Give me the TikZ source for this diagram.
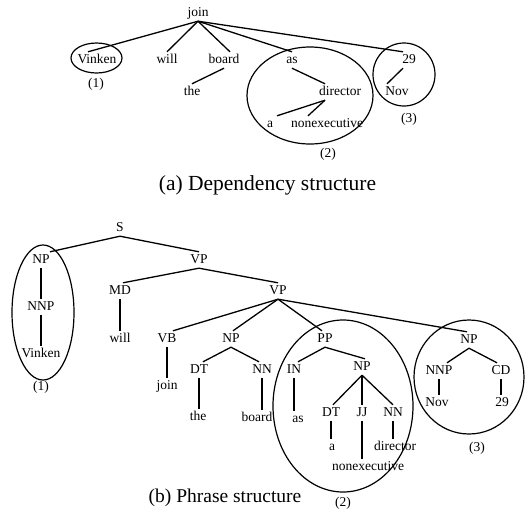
\documentclass[tikz,border=0pt]{standalone}
\usepackage{fontspec}
\setmainfont{Liberation Serif}
\usetikzlibrary{calc}
\begin{document}
\begin{tikzpicture}[x=1pt,y=-1pt,
  lbl/.style={font=\fontsize{13.5}{16}\selectfont, inner sep=2pt, text height=9pt, text depth=3pt},
  captext/.style={inner sep=0pt},
  edge/.style={line width=1.3pt},
  ring/.style={line width=1.2pt}]
\useasboundingbox (0,0) rectangle (525,512);
% ---------------- (a) dependency structure ----------------
\node[lbl] (djoin) at (198,13) {join};
\node[lbl] (dvinken) at (97,60) {Vinken};
\node[lbl] (dwill) at (167,60) {will};
\node[lbl] (dboard) at (224,60) {board};
\node[lbl] (dthe) at (192,92) {the};
\node[lbl] (das) at (292,60) {as};
\node[lbl] (ddirector) at (340,92) {director};
\node[lbl] (da) at (270,124) {a};
\node[lbl] (dnonexec) at (327,124) {nonexecutive};
\node[lbl] (d29) at (409,60) {29};
\node[lbl] (dnov) at (397,92) {Nov};
\node[lbl] (dl1) at (96,84) {(1)};
\node[lbl] (dl2) at (328,154) {(2)};
\node[lbl] (dl3) at (409,119) {(3)};
\draw[edge] (djoin.south) -- ($(dvinken.north)+(-9,0)$);
\draw[edge] (djoin.south) -- (dwill.north);
\draw[edge] (djoin.south) -- ($(dboard.north)+(6,0)$);
\draw[edge] (djoin.south) -- (das.north);
\draw[edge] (djoin.south) -- ($(d29.north)+(-6,0)$);
\draw[edge] (dboard.south) -- (dthe.north);
\draw[edge] (das.south) -- ($(ddirector.north)+(-15,0)$);
\draw[edge] ($(da.north)+(7,0)$) -- ($(ddirector.south)+(-15,0)$);
\draw[edge] ($(dnonexec.north)+(-19,0)$) -- ($(ddirector.south)+(-15,0)$);
\draw[edge] ($(d29.south)+(-6,0)$) -- ($(dnov.north)+(-10,0)$);
\draw[ring] (96.5,58) ellipse [x radius=25.5, y radius=15];
\draw[ring] (310,95.5) ellipse [x radius=63, y radius=48.5];
\draw[ring] (404,74.5) ellipse [x radius=31, y radius=31.5];
\node[captext, font=\fontsize{21.5}{25}\selectfont] (capa) at (267.5,185) {(a) Dependency structure};
% ---------------- (b) phrase structure ----------------
\node[lbl] (S) at (120,228) {S};
\node[lbl] (np1) at (41,260) {NP};
\node[lbl] (nnp1) at (41,307) {NNP};
\node[lbl] (vinken) at (41,354) {Vinken};
\node[lbl] (vp1) at (199,260) {VP};
\node[lbl] (md) at (120,291) {MD};
\node[lbl] (will) at (120,339) {will};
\node[lbl] (vp2) at (278,291) {VP};
\node[lbl] (vb) at (167,339) {VB};
\node[lbl] (join) at (167,386) {join};
\node[lbl] (np2) at (231,339) {NP};
\node[lbl] (dt1) at (199,370) {DT};
\node[lbl] (the) at (198,417) {the};
\node[lbl] (nn1) at (262,370) {NN};
\node[lbl] (board) at (257,418) {board};
\node[lbl] (pp) at (325,339) {PP};
\node[lbl] (in) at (294,370) {IN};
\node[lbl] (as) at (298,419) {as};
\node[lbl] (np3) at (362,367) {NP};
\node[lbl] (dt2) at (331,413) {DT};
\node[lbl] (a) at (332,447) {a};
\node[lbl] (jj) at (362,413) {JJ};
\node[lbl] (nonexec) at (368,467) {nonexecutive};
\node[lbl] (nn2) at (393,413) {NN};
\node[lbl] (director) at (395,447) {director};
\node[lbl] (np4) at (469,340) {NP};
\node[lbl] (nnp2) at (439,371) {NNP};
\node[lbl] (nov) at (437,403) {Nov};
\node[lbl] (cd) at (501,371) {CD};
\node[lbl] (n29) at (502,403) {29};
\node[lbl] (pl1) at (41,387) {(1)};
\node[lbl] (pl2) at (343,503) {(2)};
\node[lbl] (pl3) at (477,448) {(3)};
\draw[edge] (S.south) -- ($(np1.north)+(9,0)$);
\draw[edge] (S.south) -- (vp1.north);
\draw[edge] (np1.south) -- (nnp1.north);
\draw[edge] (nnp1.south) -- (vinken.north);
\draw[edge] (vp1.south) -- ($(md.north)+(3,0)$);
\draw[edge] (vp1.south) -- (vp2.north);
\draw[edge] (md.south) -- (will.north);
\draw[edge] (vp2.south) -- ($(vb.north)+(6,0)$);
\draw[edge] (vp2.south) -- ($(np2.north)+(2,0)$);
\draw[edge] (vp2.south) -- ($(pp.north)+(-3,0)$);
\draw[edge] (vp2.south) -- ($(np4.north)+(-2,0)$);
\draw[edge] (vb.south) -- (vb.south |- join.north);
\draw[edge] (np2.south) -- ($(dt1.north)+(4,0)$);
\draw[edge] (np2.south) -- ($(nn1.north)+(-3,0)$);
\draw[edge] (dt1.south) -- (dt1.south |- the.north);
\draw[edge] (nn1.south) -- (nn1.south |- board.north);
\draw[edge] (pp.south) -- ($(in.north)+(4,0)$);
\draw[edge] (pp.south) -- ($(np3.north)+(3,0)$);
\draw[edge] (in.south) -- (in.south |- as.north);
\draw[edge] (np3.south) -- ($(dt2.north)+(2,0)$);
\draw[edge] (np3.south) -- (jj.north);
\draw[edge] (np3.south) -- (nn2.north);
\draw[edge] (dt2.south) -- (dt2.south |- a.north);
\draw[edge] (jj.south) -- (jj.south |- nonexec.north);
\draw[edge] (nn2.south) -- (nn2.south |- director.north);
\draw[edge] (np4.south) -- ($(nnp2.north)+(8,0)$);
\draw[edge] (np4.south) -- ($(cd.north)+(-4,0)$);
\draw[edge] (nnp2.south) -- (nnp2.south |- nov.north);
\draw[edge] (cd.south) -- (cd.south |- n29.north);
\draw[ring] (43,312.5) ellipse [x radius=31, y radius=67.5];
\draw[ring] (343,406) ellipse [x radius=70, y radius=86];
\draw[ring] (469,377) ellipse [x radius=55, y radius=57];
\node[captext, font=\fontsize{19.5}{24}\selectfont] (capb) at (225,498) {(b) Phrase structure};
\end{tikzpicture}
\end{document}
